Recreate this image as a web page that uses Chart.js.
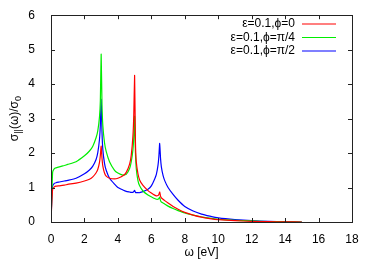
<!DOCTYPE html>
<html>
<head>
<meta charset="utf-8">
<script src="https://cdn.jsdelivr.net/npm/chart.js@4.4.1/dist/chart.umd.min.js"></script>
<style>
  html, body { margin: 0; padding: 0; background: #fff; }
  #wrap { width: 374px; height: 262px; }
</style>
</head>
<body>
<div id="wrap"><canvas id="cond"></canvas></div>
<script>
// photon energy omega [eV]
const omega = [0, 0.05, 0.1, 0.2, 0.3, 0.5, 0.8, 1.0, 1.5, 2.0, 2.3, 2.5, 2.7, 2.8, 2.9, 2.95, 3.0, 3.05, 3.1, 3.2, 3.3, 3.5, 3.8, 4.0, 4.3, 4.5, 4.7, 4.8, 4.9, 4.95, 5.0, 5.05, 5.1, 5.2, 5.3, 5.5, 5.8, 6.0, 6.2, 6.3, 6.4, 6.45, 6.5, 6.55, 6.6, 6.7, 6.8, 7.0, 7.3, 7.6, 8.0, 8.5, 9.0, 9.5, 10, 11, 12, 13, 14, 15];

const phi0 = [0, 0.6, 0.95, 1.02, 1.04, 1.05, 1.07, 1.09, 1.13, 1.19, 1.24, 1.31, 1.43, 1.53, 1.73, 1.93, 2.2, 1.85, 1.62, 1.42, 1.33, 1.27, 1.25, 1.27, 1.34, 1.44, 1.68, 1.94, 2.5, 3.1, 4.25, 2.3, 1.75, 1.4, 1.22, 1.06, 0.91, 0.84, 0.78, 0.76, 0.77, 0.8, 0.87, 0.75, 0.7, 0.66, 0.62, 0.55, 0.45, 0.37, 0.28, 0.2, 0.14, 0.1, 0.07, 0.04, 0.02, 0.01, 0.005, 0];

const phiQuarter = [0, 0.8, 1.45, 1.55, 1.57, 1.6, 1.64, 1.67, 1.75, 1.92, 2.06, 2.2, 2.45, 2.65, 3.05, 3.5, 4.87, 3.4, 2.8, 2.3, 2.05, 1.75, 1.5, 1.42, 1.36, 1.38, 1.55, 1.75, 2.1, 2.45, 3.07, 2.0, 1.55, 1.2, 1.05, 0.9, 0.78, 0.73, 0.68, 0.66, 0.66, 0.68, 0.72, 0.62, 0.58, 0.55, 0.52, 0.46, 0.39, 0.33, 0.26, 0.2, 0.15, 0.11, 0.08, 0.05, 0.03, 0.015, 0.005, 0];

const phiHalf = [0, 0.7, 1.05, 1.12, 1.14, 1.16, 1.19, 1.21, 1.27, 1.4, 1.51, 1.62, 1.82, 2.02, 2.4, 2.8, 3.56, 2.6, 2.1, 1.7, 1.5, 1.27, 1.1, 1.0, 0.93, 0.89, 0.87, 0.86, 0.86, 0.88, 0.92, 0.86, 0.85, 0.85, 0.85, 0.88, 0.95, 1.05, 1.25, 1.38, 1.65, 1.9, 2.28, 1.85, 1.6, 1.35, 1.2, 1.0, 0.8, 0.63, 0.45, 0.32, 0.23, 0.17, 0.12, 0.07, 0.04, 0.02, 0.01, 0];

const seriesLabels = ['ε=0.1,ϕ=0', 'ε=0.1,ϕ=π/4', 'ε=0.1,ϕ=π/2'];
const xTicks = [0, 2, 4, 6, 8, 10, 12, 14, 16, 18];
const yTicks = [0, 1, 2, 3, 4, 5, 6];

const FONT = '"Liberation Sans", Arial, sans-serif';

function pts(vals) {
    return omega.map((x, i) => ({ x: x, y: vals[i] }));
}

// gnuplot-ish frame, inward ticks, titles and legend
const decor = {
    id: 'decor',
    afterDatasetsDraw(chart) {
        const ctx = chart.ctx;
        const a = chart.chartArea;
        const xs = chart.scales.x, ys = chart.scales.y;
        ctx.save();
        ctx.strokeStyle = '#222';
        ctx.lineWidth = 1;
        ctx.beginPath();
        xTicks.forEach(v => {
            const px = Math.round(xs.getPixelForValue(v)) + 0.5;
            ctx.moveTo(px, a.bottom); ctx.lineTo(px, a.bottom - 4);
            ctx.moveTo(px, a.top); ctx.lineTo(px, a.top + 4);
        });
        yTicks.forEach(v => {
            const py = Math.round(ys.getPixelForValue(v)) + 0.5;
            ctx.moveTo(a.left, py); ctx.lineTo(a.left + 4, py);
            ctx.moveTo(a.right, py); ctx.lineTo(a.right - 4, py);
        });
        ctx.stroke();
        ctx.strokeRect(Math.round(a.left) + 0.5, Math.round(a.top) + 0.5,
            Math.round(a.right - a.left), Math.round(a.bottom - a.top));

        ctx.fillStyle = '#000';
        // x title
        ctx.font = '12px ' + FONT;
        ctx.textAlign = 'center';
        ctx.textBaseline = 'middle';
        ctx.fillText('ω [eV]', (a.left + a.right) / 2, 253);

        // y title with subscripts, rotated
        ctx.save();
        ctx.translate(15, (a.top + a.bottom) / 2);
        ctx.rotate(-Math.PI / 2);
        const parts = [['σ', 0], ['||', 1], ['(ω)/σ', 0], ['0', 1]];
        let w = 0;
        parts.forEach(p => {
            ctx.font = (p[1] ? '9px ' : '12px ') + FONT;
            w += ctx.measureText(p[0]).width;
        });
        let cx = -w / 2;
        ctx.textAlign = 'left';
        parts.forEach(p => {
            ctx.font = (p[1] ? '9px ' : '12px ') + FONT;
            ctx.fillText(p[0], cx, p[1] ? 4 : 0);
            cx += ctx.measureText(p[0]).width;
        });
        ctx.restore();

        // legend
        ctx.font = '12px ' + FONT;
        ctx.textAlign = 'right';
        chart.data.datasets.forEach((ds, i) => {
            const y = 24 + i * 13.5;
            ctx.fillStyle = '#000';
            ctx.fillText(ds.label, 295, y);
            ctx.strokeStyle = ds.borderColor;
            ctx.lineWidth = 1.2;
            ctx.beginPath();
            ctx.moveTo(302, y); ctx.lineTo(336, y);
            ctx.stroke();
        });
        ctx.restore();
    }
};

function init() {
    const canvas = document.getElementById('cond');
    const colors = ['#ff0000', '#00ee00', '#0000ff'];
    const sets = [phi0, phiQuarter, phiHalf];

    new Chart(canvas.getContext('2d'), {
        type: 'line',
        data: {
            datasets: sets.map((s, i) => ({
                label: seriesLabels[i],
                data: pts(s),
                borderColor: colors[i],
                borderWidth: 1.2,
                pointRadius: 0,
                tension: 0.15,
                fill: false
            }))
        },
        options: {
            responsive: true,
            maintainAspectRatio: false,
            animation: false,
            layout: { padding: { top: 15, right: 22, left: 0, bottom: 0 } },
            plugins: { legend: { display: false }, tooltip: { enabled: false } },
            scales: {
                x: {
                    type: 'linear', min: 0, max: 18,
                    afterFit: s => { s.height = 40; },
                    afterBuildTicks: s => { s.ticks = xTicks.map(v => ({ value: v })); },
                    grid: { display: false },
                    border: { display: false },
                    ticks: { color: '#000', padding: 2, maxRotation: 0, font: { family: FONT, size: 12 } }
                },
                y: {
                    type: 'linear', min: 0, max: 6,
                    afterFit: s => { s.width = 51; },
                    afterBuildTicks: s => { s.ticks = yTicks.map(v => ({ value: v })); },
                    grid: { display: false },
                    border: { display: false },
                    ticks: { color: '#000', padding: 8, font: { family: FONT, size: 12 } }
                }
            }
        },
        plugins: [decor]
    });
}

if (document.readyState === 'loading') {
    document.addEventListener('DOMContentLoaded', init);
} else { init(); }
</script>
</body>
</html>
